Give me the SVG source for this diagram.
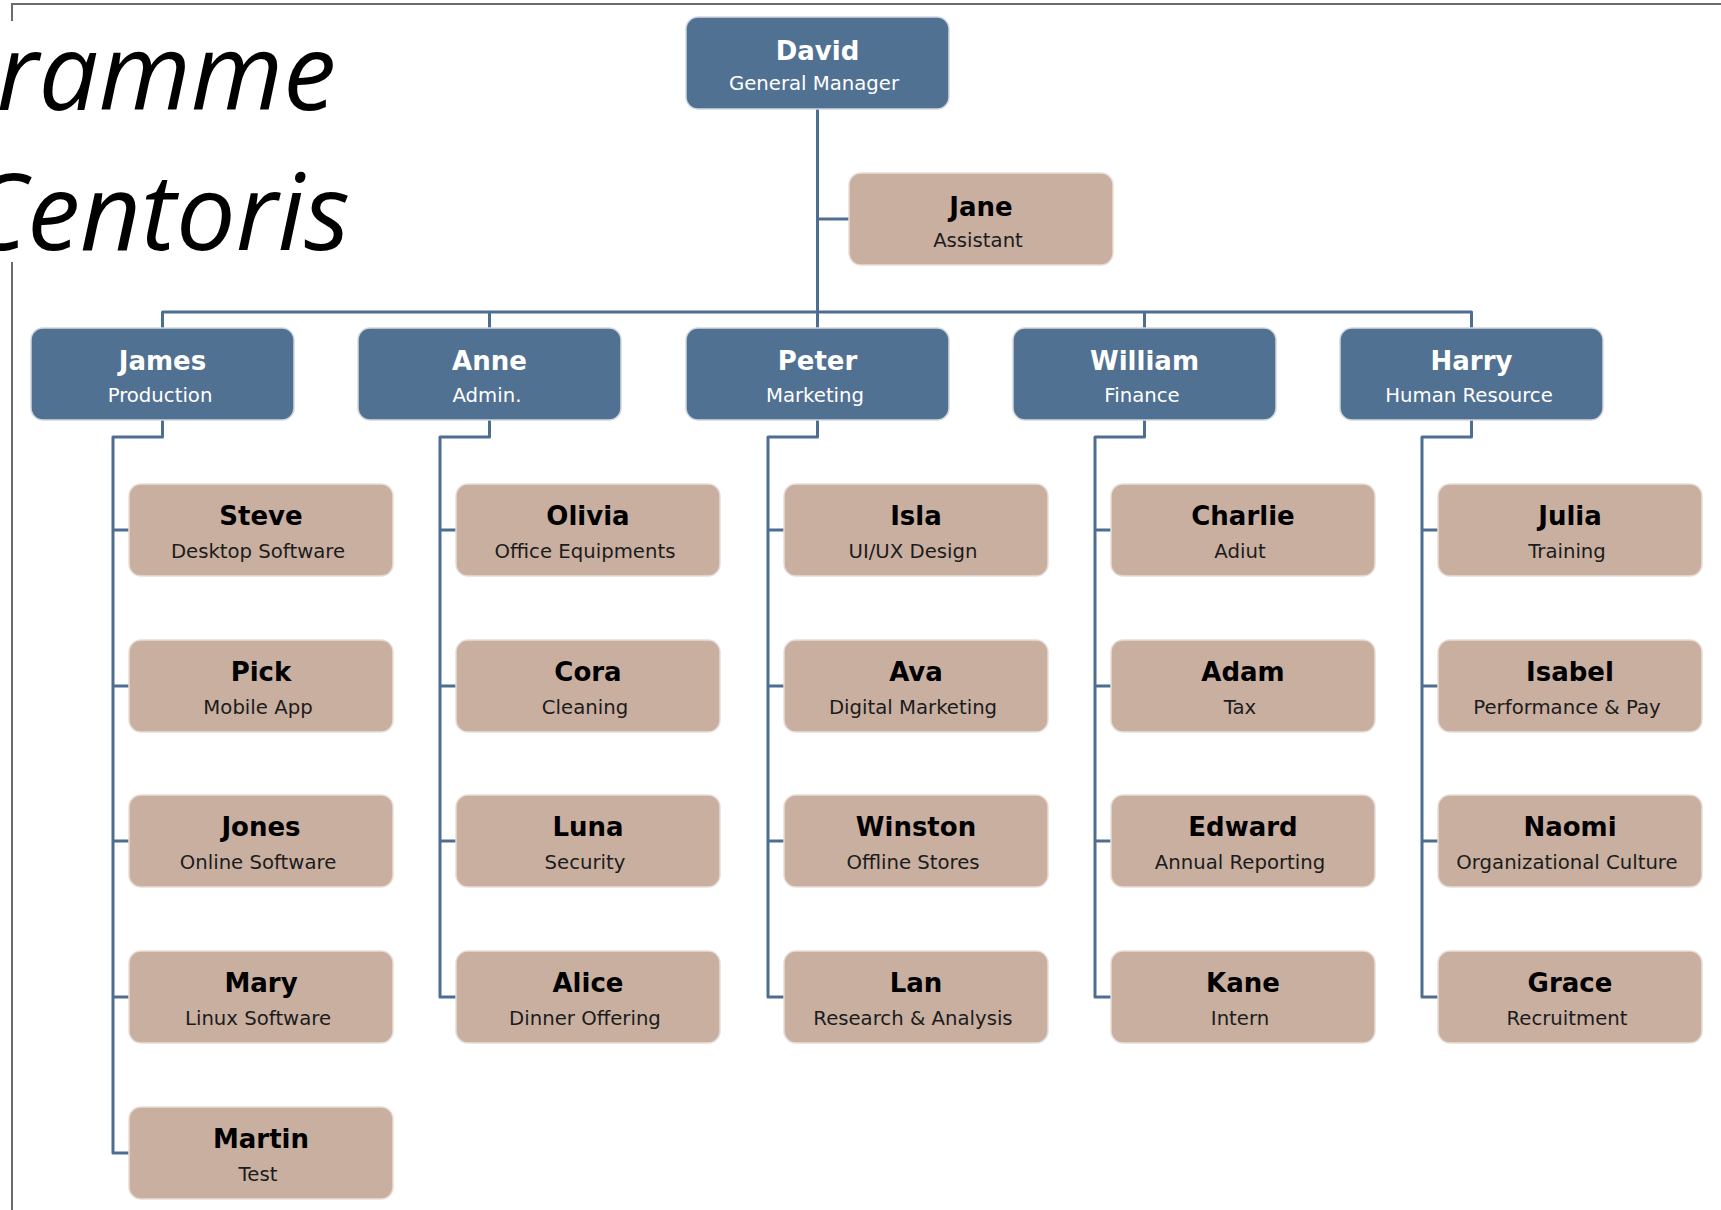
<svg xmlns="http://www.w3.org/2000/svg" width="1721" height="1210" viewBox="0 0 1721 1210">
  <style>
    .frame { fill: none; stroke: #6b6b6b; stroke-width: 2; }
    .title { font-family: "Open Sans", "Liberation Sans", sans-serif; font-style: italic; font-size: 106px; fill: #000; }
    .box-blue { fill: #517192; stroke: #d2d8de; stroke-width: 1.5; }
    .box-tan { fill: #c9afa0; stroke: #e8ddd6; stroke-width: 1.5; }
    .name { font-family: "DejaVu Sans", Verdana, sans-serif; font-weight: bold; font-size: 26px; text-anchor: middle; }
    .role { font-family: "DejaVu Sans", Verdana, sans-serif; font-size: 19.7px; text-anchor: middle; }
    .light { fill: #ffffff; }
    .dark { fill: #000000; }
    .role.dark { fill: #1c1c1c; }
    .link { fill: none; stroke: #4e6e91; stroke-width: 3; stroke-linejoin: round; }
  </style>

  <!-- page frame, interrupted behind the heading -->
  <path class="frame" d="M12,21 V4 H1721"/>
  <path class="frame" d="M12,262 V1210"/>

  <!-- heading -->
  <text class="title" x="336" y="110" text-anchor="end">ramme</text>
  <text class="title" x="350" y="250" text-anchor="end">Centoris</text>

  <!-- connectors -->
  <g id="connectors">
    <path class="link" d="M817.5,109 V328"/>
    <path class="link" d="M817.5,219 H849"/>
    <path class="link" d="M162.5,328 V312 H1471.5 V328"/>
    <path class="link" d="M489.5,312 V328"/>
    <path class="link" d="M1144.5,312 V328"/>
    <!-- Production -->
    <path class="link" d="M162.5,420 V437 H113 V1153 H129 M113,530 H129 M113,686 H129 M113,841 H129 M113,997 H129"/>
    <!-- Admin. -->
    <path class="link" d="M489.5,420 V437 H440 V997 H456 M440,530 H456 M440,686 H456 M440,841 H456"/>
    <!-- Marketing -->
    <path class="link" d="M817.5,420 V437 H768 V997 H784 M768,530 H784 M768,686 H784 M768,841 H784"/>
    <!-- Finance -->
    <path class="link" d="M1144.5,420 V437 H1095 V997 H1111 M1095,530 H1111 M1095,686 H1111 M1095,841 H1111"/>
    <!-- Human Resource -->
    <path class="link" d="M1471.5,420 V437 H1422 V997 H1438 M1422,530 H1438 M1422,686 H1438 M1422,841 H1438"/>
  </g>

  <!-- top level -->
  <g id="david" transform="translate(686,17)">
    <rect class="box-blue" width="263" height="92" rx="12"/>
    <text class="name light" x="131.5" y="43">David</text>
    <text class="role light" x="128" y="73">General Manager</text>
  </g>
  <g id="jane" transform="translate(849,173)">
    <rect class="box-tan" width="264" height="92" rx="12"/>
    <text class="name dark" x="132" y="43">Jane</text>
    <text class="role dark" x="129" y="74">Assistant</text>
  </g>

  <!-- department heads -->
  <g id="james" transform="translate(31,328)">
    <rect class="box-blue" width="263" height="92" rx="12"/>
    <text class="name light" x="131.5" y="42">James</text>
    <text class="role light" x="129" y="74">Production</text>
  </g>
  <g id="anne" transform="translate(358,328)">
    <rect class="box-blue" width="263" height="92" rx="12"/>
    <text class="name light" x="131.5" y="42">Anne</text>
    <text class="role light" x="129" y="74">Admin.</text>
  </g>
  <g id="peter" transform="translate(686,328)">
    <rect class="box-blue" width="263" height="92" rx="12"/>
    <text class="name light" x="131.5" y="42">Peter</text>
    <text class="role light" x="129" y="74">Marketing</text>
  </g>
  <g id="william" transform="translate(1013,328)">
    <rect class="box-blue" width="263" height="92" rx="12"/>
    <text class="name light" x="131.5" y="42">William</text>
    <text class="role light" x="129" y="74">Finance</text>
  </g>
  <g id="harry" transform="translate(1340,328)">
    <rect class="box-blue" width="263" height="92" rx="12"/>
    <text class="name light" x="131.5" y="42">Harry</text>
    <text class="role light" x="129" y="74">Human Resource</text>
  </g>

  <!-- Production team -->
  <g id="steve" transform="translate(129,484)">
    <rect class="box-tan" width="264" height="92" rx="12"/>
    <text class="name dark" x="132" y="41">Steve</text>
    <text class="role dark" x="129" y="74">Desktop Software</text>
  </g>
  <g id="pick" transform="translate(129,640)">
    <rect class="box-tan" width="264" height="92" rx="12"/>
    <text class="name dark" x="132" y="41">Pick</text>
    <text class="role dark" x="129" y="74">Mobile App</text>
  </g>
  <g id="jones" transform="translate(129,795)">
    <rect class="box-tan" width="264" height="92" rx="12"/>
    <text class="name dark" x="132" y="41">Jones</text>
    <text class="role dark" x="129" y="74">Online Software</text>
  </g>
  <g id="mary" transform="translate(129,951)">
    <rect class="box-tan" width="264" height="92" rx="12"/>
    <text class="name dark" x="132" y="41">Mary</text>
    <text class="role dark" x="129" y="74">Linux Software</text>
  </g>
  <g id="martin" transform="translate(129,1107)">
    <rect class="box-tan" width="264" height="92" rx="12"/>
    <text class="name dark" x="132" y="41">Martin</text>
    <text class="role dark" x="129" y="74">Test</text>
  </g>

  <!-- Admin. team -->
  <g id="olivia" transform="translate(456,484)">
    <rect class="box-tan" width="264" height="92" rx="12"/>
    <text class="name dark" x="132" y="41">Olivia</text>
    <text class="role dark" x="129" y="74">Office Equipments</text>
  </g>
  <g id="cora" transform="translate(456,640)">
    <rect class="box-tan" width="264" height="92" rx="12"/>
    <text class="name dark" x="132" y="41">Cora</text>
    <text class="role dark" x="129" y="74">Cleaning</text>
  </g>
  <g id="luna" transform="translate(456,795)">
    <rect class="box-tan" width="264" height="92" rx="12"/>
    <text class="name dark" x="132" y="41">Luna</text>
    <text class="role dark" x="129" y="74">Security</text>
  </g>
  <g id="alice" transform="translate(456,951)">
    <rect class="box-tan" width="264" height="92" rx="12"/>
    <text class="name dark" x="132" y="41">Alice</text>
    <text class="role dark" x="129" y="74">Dinner Offering</text>
  </g>

  <!-- Marketing team -->
  <g id="isla" transform="translate(784,484)">
    <rect class="box-tan" width="264" height="92" rx="12"/>
    <text class="name dark" x="132" y="41">Isla</text>
    <text class="role dark" x="129" y="74">UI/UX Design</text>
  </g>
  <g id="ava" transform="translate(784,640)">
    <rect class="box-tan" width="264" height="92" rx="12"/>
    <text class="name dark" x="132" y="41">Ava</text>
    <text class="role dark" x="129" y="74">Digital Marketing</text>
  </g>
  <g id="winston" transform="translate(784,795)">
    <rect class="box-tan" width="264" height="92" rx="12"/>
    <text class="name dark" x="132" y="41">Winston</text>
    <text class="role dark" x="129" y="74">Offline Stores</text>
  </g>
  <g id="lan" transform="translate(784,951)">
    <rect class="box-tan" width="264" height="92" rx="12"/>
    <text class="name dark" x="132" y="41">Lan</text>
    <text class="role dark" x="129" y="74">Research &amp; Analysis</text>
  </g>

  <!-- Finance team -->
  <g id="charlie" transform="translate(1111,484)">
    <rect class="box-tan" width="264" height="92" rx="12"/>
    <text class="name dark" x="132" y="41">Charlie</text>
    <text class="role dark" x="129" y="74">Adiut</text>
  </g>
  <g id="adam" transform="translate(1111,640)">
    <rect class="box-tan" width="264" height="92" rx="12"/>
    <text class="name dark" x="132" y="41">Adam</text>
    <text class="role dark" x="129" y="74">Tax</text>
  </g>
  <g id="edward" transform="translate(1111,795)">
    <rect class="box-tan" width="264" height="92" rx="12"/>
    <text class="name dark" x="132" y="41">Edward</text>
    <text class="role dark" x="129" y="74">Annual Reporting</text>
  </g>
  <g id="kane" transform="translate(1111,951)">
    <rect class="box-tan" width="264" height="92" rx="12"/>
    <text class="name dark" x="132" y="41">Kane</text>
    <text class="role dark" x="129" y="74">Intern</text>
  </g>

  <!-- Human Resource team -->
  <g id="julia" transform="translate(1438,484)">
    <rect class="box-tan" width="264" height="92" rx="12"/>
    <text class="name dark" x="132" y="41">Julia</text>
    <text class="role dark" x="129" y="74">Training</text>
  </g>
  <g id="isabel" transform="translate(1438,640)">
    <rect class="box-tan" width="264" height="92" rx="12"/>
    <text class="name dark" x="132" y="41">Isabel</text>
    <text class="role dark" x="129" y="74">Performance &amp; Pay</text>
  </g>
  <g id="naomi" transform="translate(1438,795)">
    <rect class="box-tan" width="264" height="92" rx="12"/>
    <text class="name dark" x="132" y="41">Naomi</text>
    <text class="role dark" x="129" y="74">Organizational Culture</text>
  </g>
  <g id="grace" transform="translate(1438,951)">
    <rect class="box-tan" width="264" height="92" rx="12"/>
    <text class="name dark" x="132" y="41">Grace</text>
    <text class="role dark" x="129" y="74">Recruitment</text>
  </g>
</svg>
